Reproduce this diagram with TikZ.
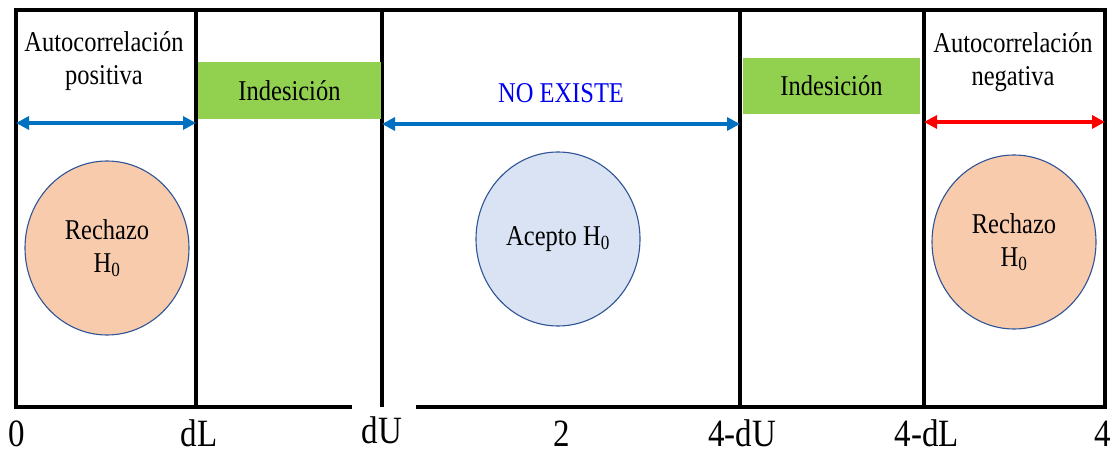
\documentclass[tikz,border=0pt]{standalone}
\usepackage{fontspec}
\setmainfont{Liberation Serif}
\usepackage{graphicx}
\usetikzlibrary{arrows.meta,shapes.geometric}
\definecolor{indgreen}{HTML}{92D050}
\definecolor{rejfill}{HTML}{F8CBAD}
\definecolor{accfill}{HTML}{DAE3F3}
\definecolor{circedge}{HTML}{2F5597}
\definecolor{arrblue}{HTML}{0070C0}
\definecolor{arrred}{HTML}{FF0000}
\definecolor{txtblue}{HTML}{0000F0}
\newcommand{\vst}[1]{\scalebox{1}[1.17]{#1}}
\tikzset{
  frame/.style={line width=3.5pt, line join=miter, black},
  divider/.style={line width=3.5pt, black},
  textlab/.style={font=\fontsize{24.5}{33}\selectfont, align=center, inner sep=0pt},
  axislab/.style={font=\fontsize{33}{40}\selectfont, anchor=base, inner sep=0pt},
  greenbox/.style={fill=indgreen, draw=none, inner sep=0pt, font=\fontsize{24.5}{33}\selectfont},
  rejcirc/.style={ellipse, fill=rejfill, draw=circedge, line width=1.1pt, minimum width=164pt, minimum height=174pt, inner sep=0pt, align=center, font=\fontsize{24.5}{33}\selectfont},
  acccirc/.style={rejcirc, fill=accfill},
  dblarrow/.style={line width=3.5pt, {Triangle[length=13pt,width=13pt]}-{Triangle[length=13pt,width=13pt]}},
}
\begin{document}
\begin{tikzpicture}[x=1pt,y=-1pt]
\useasboundingbox (0,0) rectangle (1115,454);
% frame
\draw[frame] (352,407) -- (16,407) -- (16,10) -- (1105,10) -- (1105,407) -- (416,407);
% dividers
\foreach \n/\x in {dl/196, du/382, fdu/740, fdl/924} {
  \coordinate (\n top) at (\x,10);
  \coordinate (\n bot) at (\x,407);
  \draw[divider] (\n top) -- (\n bot);
}
% green boxes
\node[greenbox, minimum width=183pt, minimum height=57pt] (ind1) at (289.5,90.5) {\vst{Indesición}};
\node[greenbox, minimum width=177pt, minimum height=56pt] (ind2) at (831.5,86) {\vst{Indesición}};
% top texts
\node[textlab] (autopos) at (104,61) {\vst{Autocorrelación}\\\vst{positiva}};
\node[textlab] (autoneg) at (1013,62) {\vst{Autocorrelación}\\\vst{negativa}};
\node[textlab, text=txtblue] (noex) at (561,93) {\vst{NO EXISTE}};
% arrows
\coordinate (a1l) at (16,123);
\coordinate (a1r) at (196,123);
\coordinate (a2l) at (382,124);
\coordinate (a2r) at (740,124);
\coordinate (a3l) at (924,122);
\coordinate (a3r) at (1105,122);
\draw[dblarrow, arrblue] (a1l) -- (a1r);
\draw[dblarrow, arrblue] (a2l) -- (a2r);
\draw[dblarrow, arrred] (a3l) -- (a3r);
% circles
\node[rejcirc] (rej1) at (107,248) {\vst{Rechazo}\\\vst{H\textsubscript{0}}};
\node[acccirc] (acc) at (558,239) {\vst{Acepto H\textsubscript{0}}};
\node[rejcirc] (rej2) at (1014,242) {\vst{Rechazo}\\\vst{H\textsubscript{0}}};
% axis labels
\node[axislab] (l0) at (17,446) {\vst{0}};
\node[axislab] (ldl) at (199,446) {\vst{dL}};
\node[axislab] (ldu) at (382,443) {\vst{dU}};
\node[axislab] (l2) at (562,446) {\vst{2}};
\node[axislab] (lfdu) at (742,446) {\vst{4-dU}};
\node[axislab] (lfdl) at (927,446) {\vst{4-dL}};
\node[axislab] (l4) at (1103,446) {\vst{4}};
\end{tikzpicture}
\end{document}
